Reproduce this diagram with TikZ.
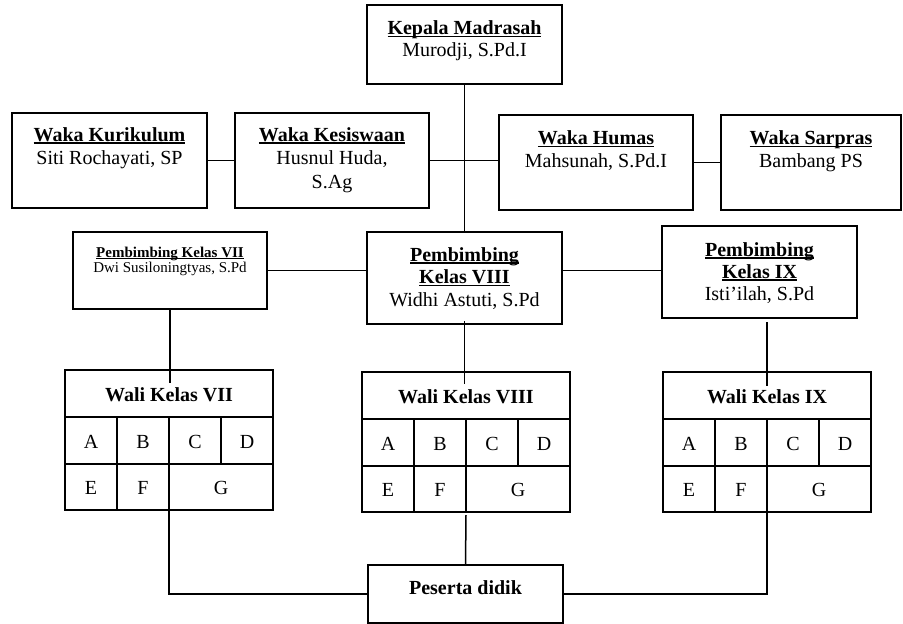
\documentclass[tikz,border=0pt]{standalone}
\usepackage{fontspec}
\setmainfont{Liberation Serif}
\newlength\ulwd
\newcommand\ulx[1]{\settowidth{\ulwd}{#1}\rlap{\rule[-0.13em]{\ulwd}{0.075em}}#1}
\newcommand\walitab[4]{%
 \node[box, minimum width=208pt, minimum height=140pt, anchor=north west] (#1) at (#2,#3) {};
 \node[txt] (#1-t) at (#2+104,#3+31) {\bfseries #4};
 \draw[grid] (#2,#3+47) -- (#2+208,#3+47) (#2,#3+94) -- (#2+208,#3+94)
   (#2+52,#3+47) -- (#2+52,#3+140) (#2+104,#3+47) -- (#2+104,#3+140)
   (#2+156,#3+47) -- (#2+156,#3+94);
 \node[txt] (#1-a) at (#2+26,#3+78) {A};
 \node[txt] (#1-b) at (#2+78,#3+78) {B};
 \node[txt] (#1-c) at (#2+130,#3+78) {C};
 \node[txt] (#1-d) at (#2+182,#3+78) {D};
 \node[txt] (#1-e) at (#2+26,#3+124) {E};
 \node[txt] (#1-f) at (#2+78,#3+124) {F};
 \node[txt] (#1-g) at (#2+156,#3+124) {G};
}
\tikzset{
 box/.style={draw, line width=2pt, inner sep=0pt, outer sep=0pt},
 conn/.style={line width=1.5pt},
 grid/.style={line width=1.3pt},
 txt/.style={anchor=base, inner sep=0pt, font=\fontsize{20}{23}\selectfont},
}
\begin{document}
\begin{tikzpicture}[x=1pt,y=-1pt]
\useasboundingbox (0,0) rectangle (903,624);
% boxes
\node[box, minimum width=195pt, minimum height=79pt] (kepala) at (464.5,44.5) {};
\node[box, minimum width=195pt, minimum height=95pt] (kur) at (109.5,160.5) {};
\node[box, minimum width=194pt, minimum height=95pt] (kes) at (332,160.5) {};
\node[box, minimum width=194pt, minimum height=95pt] (hum) at (596,162.5) {};
\node[box, minimum width=180pt, minimum height=95pt] (sar) at (811,162.5) {};
\node[box, minimum width=194pt, minimum height=77pt] (pvii) at (170,270.5) {};
\node[box, minimum width=195pt, minimum height=92pt] (pviii) at (464.5,278) {};
\node[box, minimum width=195pt, minimum height=92pt] (pix) at (759.5,272) {};
\node[box, minimum width=195pt, minimum height=58pt] (peserta) at (465.5,594) {};
% texts
\node[txt, font=\fontsize{20}{22}\selectfont] (kepala-t) at (464.5,34.5)
 {\begin{tabular}[t]{@{}c@{}}\bfseries\ulx{Kepala Madrasah}\\Murodji, S.Pd.I\end{tabular}};
\node[txt] (kur-t) at (109.5,141)
 {\begin{tabular}[t]{@{}c@{}}\bfseries\ulx{Waka Kurikulum}\\Siti Rochayati, SP\end{tabular}};
\node[txt, font=\fontsize{20}{23.5}\selectfont] (kes-t) at (332,141)
 {\begin{tabular}[t]{@{}c@{}}\bfseries\ulx{Waka Kesiswaan}\\Husnul Huda,\\S.Ag\end{tabular}};
\node[txt, font=\fontsize{20}{22.5}\selectfont] (hum-t) at (596,144.5)
 {\begin{tabular}[t]{@{}c@{}}\bfseries\ulx{Waka Humas}\\Mahsunah, S.Pd.I\end{tabular}};
\node[txt, font=\fontsize{20}{22.5}\selectfont] (sar-t) at (811,144.5)
 {\begin{tabular}[t]{@{}c@{}}\bfseries\ulx{Waka Sarpras}\\Bambang PS\end{tabular}};
\node[txt, font=\fontsize{15}{15.5}\selectfont] (pvii-t) at (170,257)
 {\begin{tabular}[t]{@{}c@{}}\bfseries\ulx{Pembimbing Kelas VII}\\Dwi Susiloningtyas, S.Pd\end{tabular}};
\node[txt, font=\fontsize{20}{22.5}\selectfont] (pviii-t) at (464.5,261)
 {\begin{tabular}[t]{@{}c@{}}\bfseries\ulx{Pembimbing}\\\bfseries\ulx{Kelas VIII}\\Widhi Astuti, S.Pd\end{tabular}};
\node[txt, font=\fontsize{20}{22}\selectfont] (pix-t) at (759.5,256)
 {\begin{tabular}[t]{@{}c@{}}\bfseries\ulx{Pembimbing}\\\bfseries\ulx{Kelas IX}\\Isti’ilah, S.Pd\end{tabular}};
\node[txt] (peserta-t) at (465.5,594) {\bfseries Peserta didik};
% tables
\walitab{wvii}{65}{370}{Wali Kelas VII}
\walitab{wviii}{362}{372}{Wali Kelas VIII}
\walitab{wix}{663}{372}{Wali Kelas IX}
% connectors
\draw[conn] (kepala.south) -- (pviii.north);
\draw[conn] (kur.east) -- (kes.west);
\draw[conn] (kes.east) -- (kes.east -| hum.west);
\draw[conn] (hum.east) -- (sar.west);
\draw[conn] (pvii.east) -- (pvii.east -| pviii.west);
\draw[conn] (pvii.east -| pviii.east) -- (pvii.east -| pix.west);
\draw[conn] (pvii.south) -- ([yshift=-13pt]pvii.south |- wvii.north);
\draw[conn] ([yshift=3pt]pviii.south) -- ([yshift=-12pt]pviii.south |- wviii.north);
\draw[conn] ([yshift=-4pt]wix.north |- pix.south) -- ([yshift=-14pt]wix.north);
\draw[conn] (wvii.south) |- (peserta.west);
\draw[conn] ([yshift=-3pt]wviii.south) -- (peserta.north);
\draw[conn] (wix.south) |- (peserta.east);
\end{tikzpicture}
\end{document}
